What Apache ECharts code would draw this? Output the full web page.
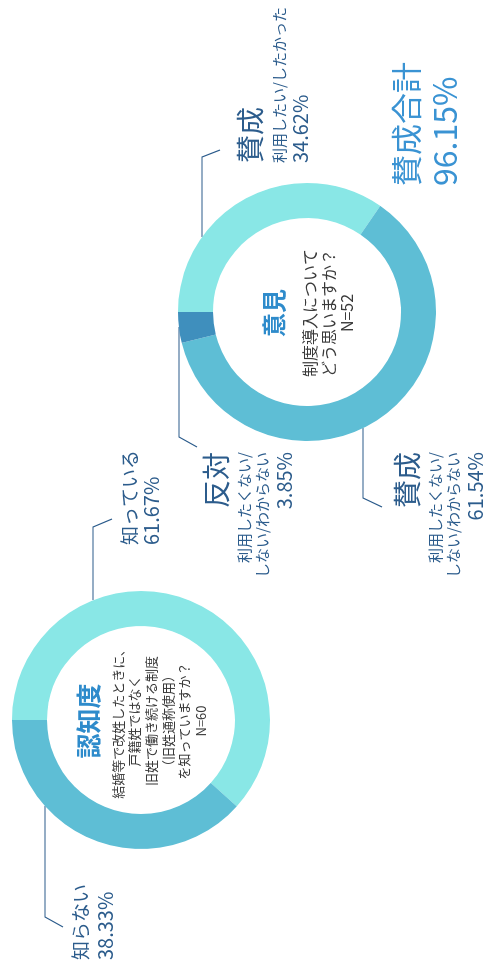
<!DOCTYPE html>
<html>
<head>
<meta charset="utf-8">
<script src="https://cdn.jsdelivr.net/npm/echarts@6/dist/echarts.min.js"></script>
<style>
html, body { margin: 0; padding: 0; background: #fff; overflow: hidden; }
#wrap { width: 486px; height: 969px; position: relative; overflow: hidden; }
/* 横長で描いて、左へ90度回す */
#chart { position: absolute; left: 0; top: 0; width: 969px; height: 486px;
  transform-origin: 0 0; transform: translateY(969px) rotate(-90deg); }
</style>
</head>
<body>
<div id="wrap"><div id="chart"></div></div>
<script>
// データ
const awarenessNames = ['知っている', '知らない'];
const awarenessValues = [61.67, 38.33];
const awarenessTitle = '認知度';
const awarenessQuestion = ['結婚等で改姓したときに、', '戸籍姓ではなく', '旧姓で働き続ける制度', '（旧姓通称使用）', 'を知っていますか？', 'N=60'];

const opinionHeads = ['賛成', '賛成', '反対'];
const opinionSubs = ['利用したい/したかった', '利用したくない/\nしない/わからない', '利用したくない/\nしない/わからない'];
const opinionValues = [34.62, 61.54, 3.85];
const opinionTitle = '意見';
const opinionQuestion = ['制度導入について', 'どう思いますか？', 'N=52'];
const opinionTotalName = '賛成合計';
const opinionTotal = 96.15;

// 色
const cLight = '#89e7e6';
const cMid = '#5ebed5';
const cDark = '#3f8fbd';
const navy = '#2c5c8c';
const blue = '#3a93d3';
const font = '"Noto Sans CJK JP", sans-serif';

// ラベル位置（回転前の座標）
const awarenessLabelPos = [{ x: 424, y: 119.5, align: 'left' }, { x: 9, y: 69, align: 'left' }];
const opinionLabelPos = [{ x: 806, y: 234, align: 'left' }, { x: 517, y: 387.5, align: 'right' }, { x: 517, y: 196.5, align: 'right' }];

const pct = v => v.toFixed(2) + '%';
const chart = echarts.init(document.getElementById('chart'));

const awarenessRich = {
  a0: { fontSize: 19, lineHeight: 21, color: navy, fontFamily: font },
  b0: { fontSize: 20, lineHeight: 21, color: navy, fontFamily: font },
  a1: { fontSize: 19, lineHeight: 24, color: navy, fontFamily: font },
  b1: { fontSize: 20, lineHeight: 24, color: navy, fontFamily: font }
};
const opinionRich = {
  h0: { fontSize: 28, lineHeight: 32, color: navy, fontFamily: font },
  s0: { fontSize: 15, lineHeight: 26, color: navy, fontFamily: font },
  v0: { fontSize: 20, lineHeight: 16, color: navy, fontFamily: font },
  h: { fontSize: 28, lineHeight: 40, color: navy, fontFamily: font },
  s: { fontSize: 15, lineHeight: 15, color: navy, fontFamily: font },
  t: { fontSize: 15, lineHeight: 21, color: navy, fontFamily: font },
  v: { fontSize: 20, lineHeight: 23, color: navy, fontFamily: font }
};

const centerText = (title, lines) => '{t|' + title + '}\n' + lines.map(l => '{l|' + l + '}').join('\n');

const leader = pts => ({
  type: 'polyline', silent: true,
  shape: { points: pts },
  style: { stroke: navy, lineWidth: 1.2, fill: null }
});

chart.setOption({
  animation: false,
  backgroundColor: '#fff',
  series: [
    {
      type: 'pie',
      center: [249, 141],
      radius: [94, 129],
      startAngle: 90,
      silent: true,
      avoidLabelOverlap: false,
      itemStyle: { borderWidth: 0 },
      data: awarenessNames.map((n, i) => ({ name: n, value: awarenessValues[i], itemStyle: { color: [cLight, cMid][i] } })),
      label: {
        show: true,
        position: 'outside',
        formatter: p => '{a' + p.dataIndex + '|' + p.name + '}\n{b' + p.dataIndex + '|' + pct(p.value) + '}',
        rich: awarenessRich
      },
      labelLine: { show: false },
      labelLayout: p => {
        const pos = awarenessLabelPos[p.dataIndex];
        return { x: pos.x, y: pos.y, align: pos.align, verticalAlign: 'top' };
      }
    },
    {
      type: 'pie',
      center: [657, 307],
      radius: [94, 129],
      startAngle: 90,
      silent: true,
      avoidLabelOverlap: false,
      itemStyle: { borderWidth: 0 },
      data: opinionHeads.map((n, i) => ({ name: n, value: opinionValues[i], itemStyle: { color: [cLight, cMid, cDark][i] } })),
      label: {
        show: true,
        position: 'outside',
        formatter: p => {
          const i = p.dataIndex;
          const sub = opinionSubs[i].split('\n');
          if (sub.length === 1) {
            return '{h0|' + p.name + '}\n{s0|' + sub[0] + '}\n{v0|' + pct(p.value) + '}';
          }
          return '{h|' + p.name + '}\n{s|' + sub[0] + '}\n{t|' + sub[1] + '}\n{v|' + pct(p.value) + '}';
        },
        rich: opinionRich
      },
      labelLine: { show: false },
      labelLayout: p => {
        const pos = opinionLabelPos[p.dataIndex];
        return { x: pos.x, y: pos.y, align: pos.align, verticalAlign: 'top' };
      }
    }
  ],
  graphic: [
    leader([[369, 93], [442, 93], [450, 112]]),
    leader([[163, 45], [52, 45], [42, 63]]),
    leader([[732, 202], [812, 202], [819, 220]]),
    leader([[642, 179], [532, 179], [522, 197]]),
    leader([[541, 363], [471, 363], [462, 382]]),
    {
      type: 'text', silent: true, x: 248, y: 67.75,
      style: {
        text: centerText(awarenessTitle, awarenessQuestion),
        align: 'center', verticalAlign: 'top',
        rich: {
          t: { fontSize: 25, fontWeight: 'bold', lineHeight: 41.5, fill: '#2e8bcb', fontFamily: font },
          l: { fontSize: 13, lineHeight: 16.7, fill: '#3a3a3a', fontFamily: font }
        }
      }
    },
    {
      type: 'text', silent: true, x: 656, y: 247.25,
      style: {
        text: centerText(opinionTitle, opinionQuestion),
        align: 'center', verticalAlign: 'top',
        rich: {
          t: { fontSize: 24, fontWeight: 'bold', lineHeight: 53.5, fill: '#2e8bcb', fontFamily: font },
          l: { fontSize: 16, lineHeight: 18.5, fill: '#3a3a3a', fontFamily: font }
        }
      }
    },
    {
      type: 'text', silent: true, x: 783, y: 386,
      style: {
        text: '{a|' + opinionTotalName + '}\n{b|' + pct(opinionTotal) + '}',
        align: 'left', verticalAlign: 'top',
        rich: {
          a: { fontSize: 31, lineHeight: 40, fill: blue, fontFamily: font },
          b: { fontSize: 32, lineHeight: 38, fill: blue, fontFamily: font }
        }
      }
    }
  ]
});
</script>
</body>
</html>
